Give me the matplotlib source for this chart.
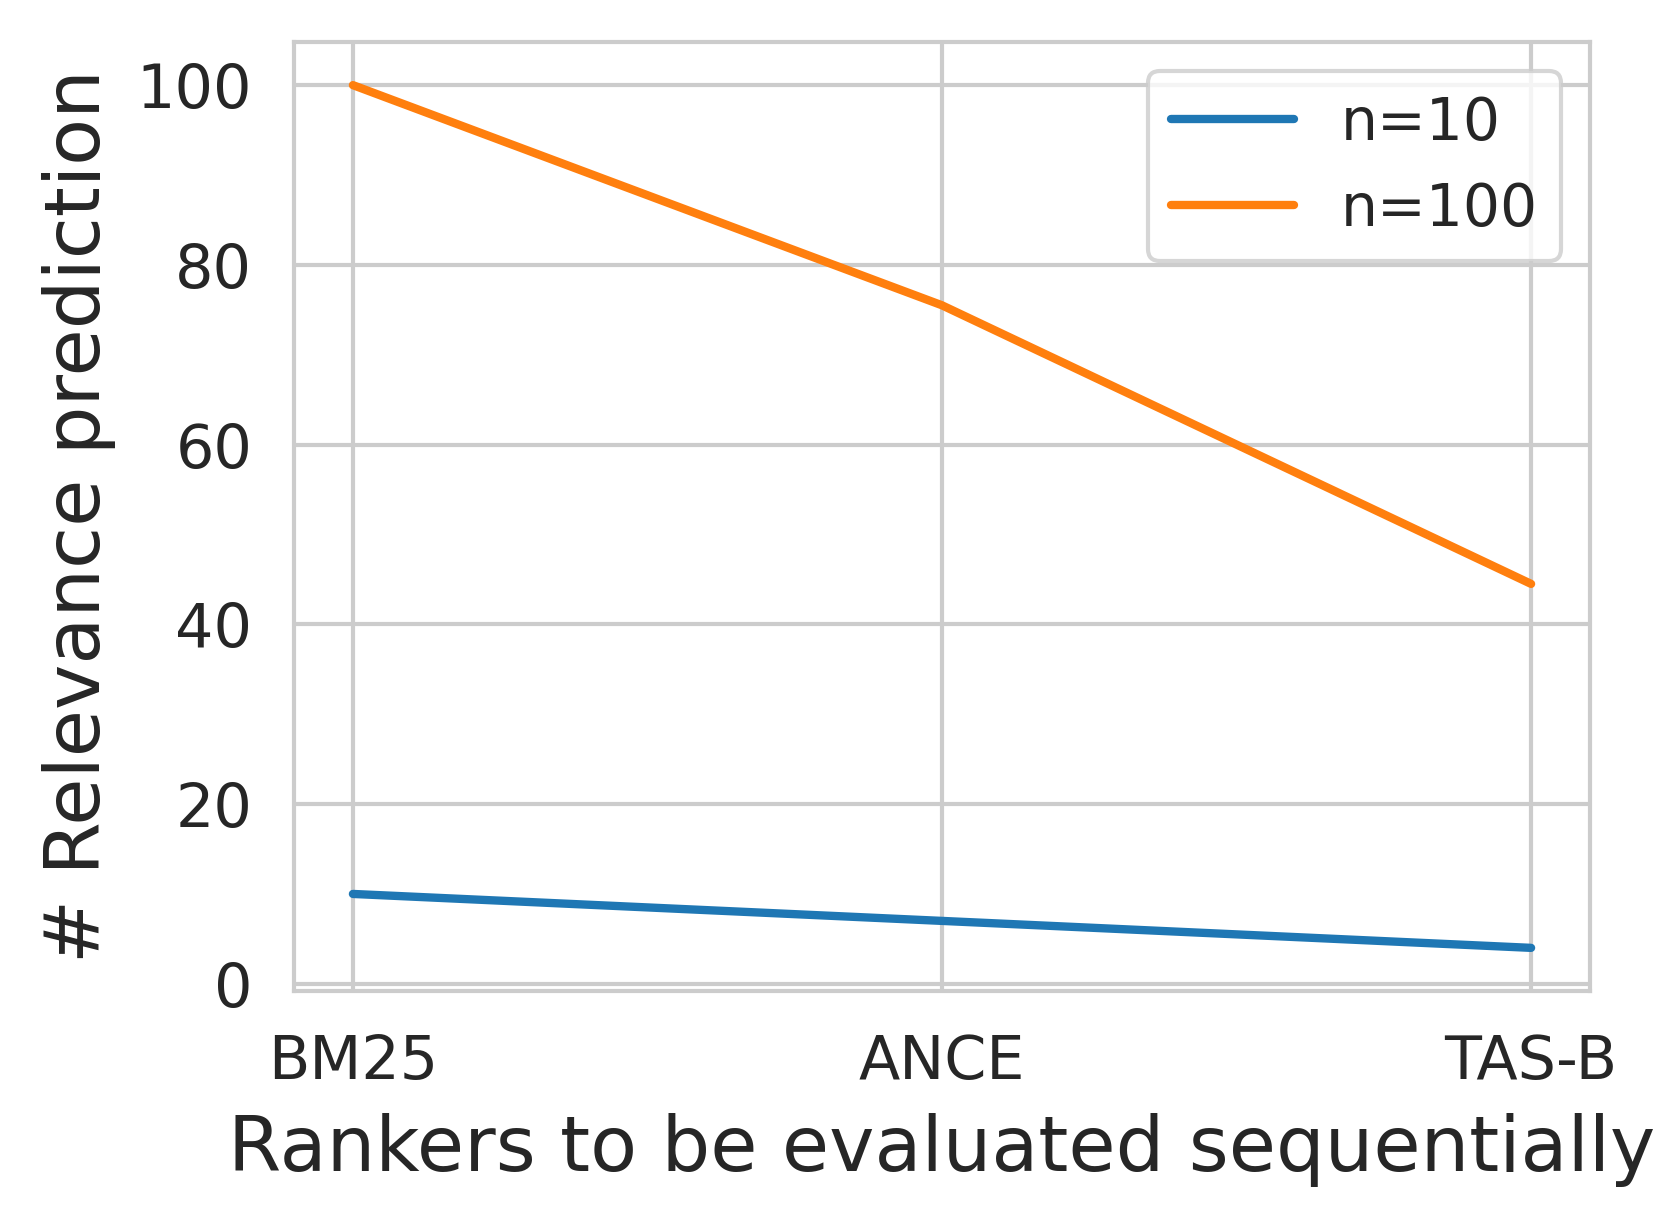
import matplotlib
matplotlib.use("Agg")
import matplotlib.pyplot as plt
import seaborn as sns

rankers = ["BM25", "ANCE", "TAS-B"]
n10 = [10, 7, 4]
n100 = [100, 75.5, 44.5]
series_labels = ["n=10", "n=100"]

sns.set_theme(style="whitegrid")
plt.rcParams['font.family'] = ['DejaVu Sans']

fig = plt.figure(figsize=(5.53, 4.0967), dpi=300)
ax = fig.add_axes([294/1659, 1 - 991/1229, (1590-294)/1659, (991-42)/1229])

x = list(range(len(rankers)))
ax.plot(x, n10, color="#1f77b4", lw=2.0, label=series_labels[0], solid_capstyle="round")
ax.plot(x, n100, color="#ff7f0e", lw=2.0, label=series_labels[1], solid_capstyle="round")

ax.set_xticks(x)
ax.set_xticklabels(rankers)
ax.set_yticks([0, 20, 40, 60, 80, 100])
ax.tick_params(axis="both", labelsize=14.5, colors="#262626", pad=4, length=6)
ax.set_xlabel("Rankers to be evaluated sequentially", fontsize=18.4, color="#262626", labelpad=5.2)
ax.set_ylabel("# Relevance prediction", fontsize=18.4, color="#262626", labelpad=5)
ax.grid(True, color="#cccccc", lw=1.0)
for s in ax.spines.values():
    s.set_color("#cccccc")
    s.set_linewidth(1.0)

leg = ax.legend(loc="upper right", fontsize=14, frameon=True, handlelength=2.1)
leg.get_frame().set_edgecolor("#cccccc")

fig.savefig("out.png", dpi=300)
